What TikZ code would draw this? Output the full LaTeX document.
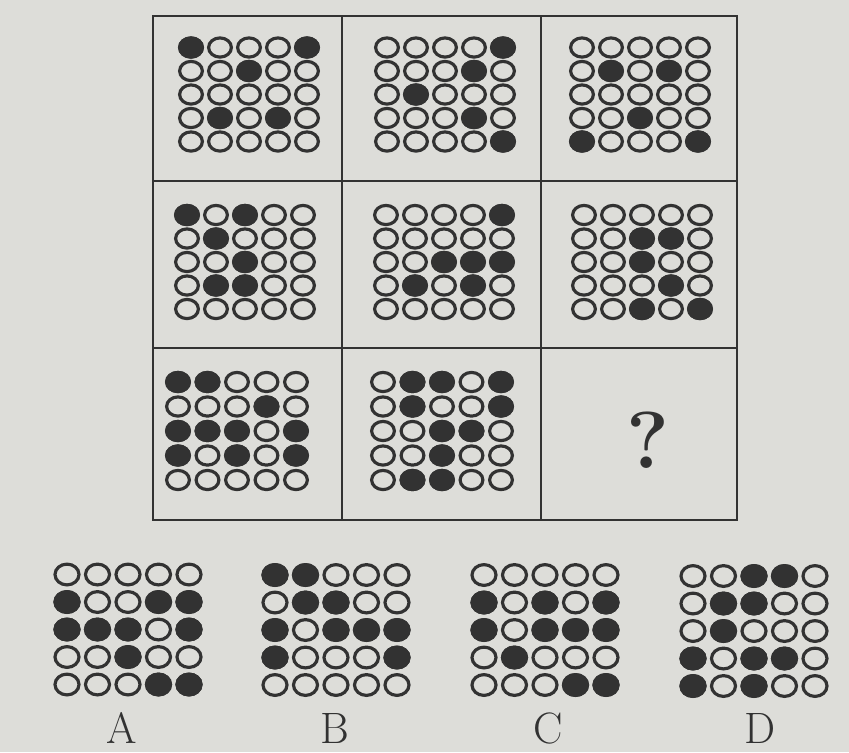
\documentclass[tikz,border=0pt]{standalone}
\usepackage{xcolor}
\definecolor{paper}{RGB}{221,221,217}
\definecolor{ink}{RGB}{50,50,50}
\tikzset{
  ring/.style={draw=ink, line width=1.8pt},
  celldot/.style={x radius=11.4, y radius=9.6},
  optdot/.style={x radius=12.0, y radius=10.4},
}
% #1,#2 centre of the panel, #3,#4 spacing, #5 filled dots (column/row)
\newcommand{\dotpanel}[6]{%
  \foreach \c in {1,...,5}
    \foreach \r in {1,...,5}
      \draw[ring, fill=paper] ({#1+(\c-3)*#3},{#2+(\r-3)*#4}) ellipse [#6];
  \foreach \c/\r in {#5}
    \draw[ring, fill=ink] ({#1+(\c-3)*#3},{#2+(\r-3)*#4}) ellipse [#6];
}
\begin{document}
\begin{tikzpicture}[x=0.02cm, y=-0.02cm]
\fill[paper] (0,0) rectangle (849,752);
\useasboundingbox (0,0) rectangle (849,752);
\begin{scope}
\draw[ink, line width=1.4pt] (153,16) rectangle (737,520);
\draw[ink, line width=1.4pt] (342,16) -- (342,520);
\draw[ink, line width=1.4pt] (541,16) -- (541,520);
\draw[ink, line width=1.4pt] (153,181) -- (737,181);
\draw[ink, line width=1.4pt] (153,348) -- (737,348);
\dotpanel{249}{94.5}{29}{23.5}{1/1,5/1,3/2,2/4,4/4}{celldot}
\dotpanel{445}{94.5}{29}{23.5}{5/1,4/2,2/3,4/4,5/5}{celldot}
\dotpanel{640}{94.5}{29}{23.5}{2/2,4/2,3/4,1/5,5/5}{celldot}
\dotpanel{245}{262}{29}{23.5}{1/1,3/1,2/2,3/3,2/4,3/4}{celldot}
\dotpanel{444}{262}{29}{23.5}{5/1,3/3,4/3,5/3,2/4,4/4}{celldot}
\dotpanel{642}{262}{29}{23.5}{3/2,4/2,3/3,4/4,3/5,5/5}{celldot}
\dotpanel{237}{431}{29.5}{24.5}{1/1,2/1,4/2,1/3,2/3,3/3,5/3,1/4,3/4,5/4}{celldot}
\dotpanel{442}{431}{29.5}{24.5}{2/1,3/1,5/1,2/2,5/2,3/3,4/3,3/4,2/5,3/5}{celldot}
\node[anchor=base, text=ink, font=\fontsize{46}{46}\selectfont\bfseries] (qmark) at (648,468) {?};
\end{scope}
\begin{scope}
\dotpanel{128}{629.5}{30.5}{27.5}{1/2,4/2,5/2,1/3,2/3,3/3,5/3,3/4,4/5,5/5}{optdot}
\dotpanel{336}{630}{30.5}{27.5}{1/1,2/1,2/2,3/2,1/3,3/3,4/3,5/3,1/4,5/4}{optdot}
\dotpanel{545}{630}{30.5}{27.5}{1/2,3/2,5/2,1/3,3/3,4/3,5/3,2/4,4/5,5/5}{optdot}
\dotpanel{754}{631}{30.5}{27.5}{3/1,4/1,2/2,3/2,2/3,1/4,3/4,4/4,1/5,3/5}{optdot}
\node[anchor=base, text=ink, font=\fontsize{25}{25}\selectfont] (labA) at (122,743) {A};
\node[anchor=base, text=ink, font=\fontsize{25}{25}\selectfont] (labB) at (335,743) {B};
\node[anchor=base, text=ink, font=\fontsize{25}{25}\selectfont] (labC) at (548,743) {C};
\node[anchor=base, text=ink, font=\fontsize{25}{25}\selectfont] (labD) at (760,743) {D};
\end{scope}
\end{tikzpicture}
\end{document}
